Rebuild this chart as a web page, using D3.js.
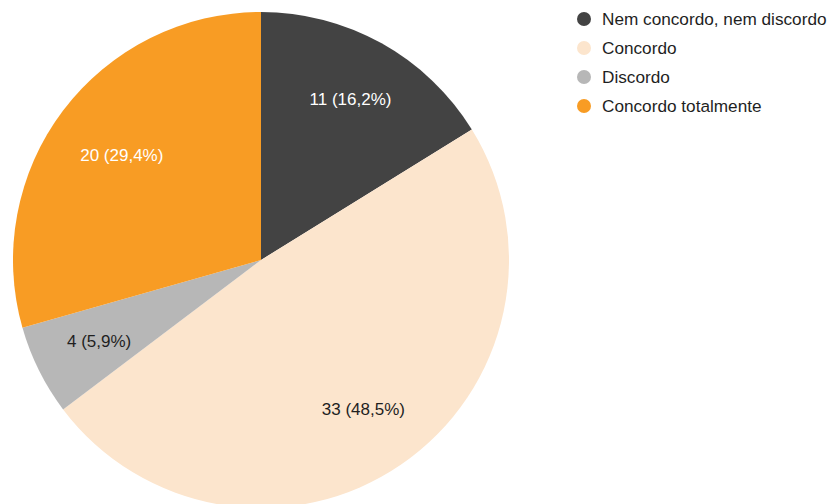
<!DOCTYPE html>
<html>
<head>
<meta charset="utf-8">
<script src="https://cdn.jsdelivr.net/npm/d3@7"></script>
<style>
  html, body { margin: 0; padding: 0; background: #fff; }
  svg { display: block; font-family: "Liberation Sans", Arial, sans-serif; }
</style>
</head>
<body>
<svg id="chart" width="829" height="504"></svg>
<script>
// Survey answers, in slice order (clockwise from 12 o'clock)
const categories = ["Nem concordo, nem discordo", "Concordo", "Discordo", "Concordo totalmente"];
const counts = [11, 33, 4, 20];
const percentLabels = ["16,2%", "48,5%", "5,9%", "29,4%"];
const sliceColors = ["#434343", "#fce5cd", "#b7b7b7", "#f89c24"];
const labelColors = ["#ffffff", "#1f1f1f", "#1f1f1f", "#ffffff"];

const svg = d3.select("#chart");
const cx = 261, cy = 260, radius = 248;

const pie = d3.pie().sort(null).value(d => d)(counts);
const arc = d3.arc().innerRadius(0).outerRadius(radius);

const g = svg.append("g").attr("transform", `translate(${cx},${cy})`);

g.selectAll("path.slice")
  .data(pie)
  .join("path")
  .attr("class", "slice")
  .attr("d", arc)
  .attr("fill", (d, i) => sliceColors[i]);

// Value labels: pushed outward along each slice's mid-angle until the
// label box's outer corner reaches a fixed fraction of the radius.
const labelReach = radius * 0.86;
const labelBoxH = 16;
const labels = g.selectAll("text.value")
  .data(pie)
  .join("text")
  .attr("class", "value")
  .attr("text-anchor", "middle")
  .attr("dy", "0.35em")
  .attr("font-size", 17)
  .attr("fill", (d, i) => labelColors[i])
  .text((d, i) => `${counts[i]} (${percentLabels[i]})`);

labels.attr("transform", function (d) {
  const w = this.getComputedTextLength();
  const a = (d.startAngle + d.endAngle) / 2;
  const ux = Math.sin(a), uy = -Math.cos(a);
  const b = Math.abs(ux) * w + Math.abs(uy) * labelBoxH;
  const c = (w * w + labelBoxH * labelBoxH) / 4 - labelReach * labelReach;
  const t = (-b + Math.sqrt(b * b - 4 * c)) / 2;
  return `translate(${t * ux},${t * uy})`;
});

// Legend
const legend = svg.append("g").attr("transform", "translate(584,19)");
const rows = legend.selectAll("g.row")
  .data(categories)
  .join("g")
  .attr("class", "row")
  .attr("transform", (d, i) => `translate(0,${i * 29})`);

rows.append("circle")
  .attr("r", 7)
  .attr("fill", (d, i) => sliceColors[i]);

rows.append("text")
  .attr("x", 18)
  .attr("dy", "0.35em")
  .attr("font-size", 17.2)
  .attr("fill", "#1f1f1f")
  .text(d => d);
</script>
</body>
</html>
